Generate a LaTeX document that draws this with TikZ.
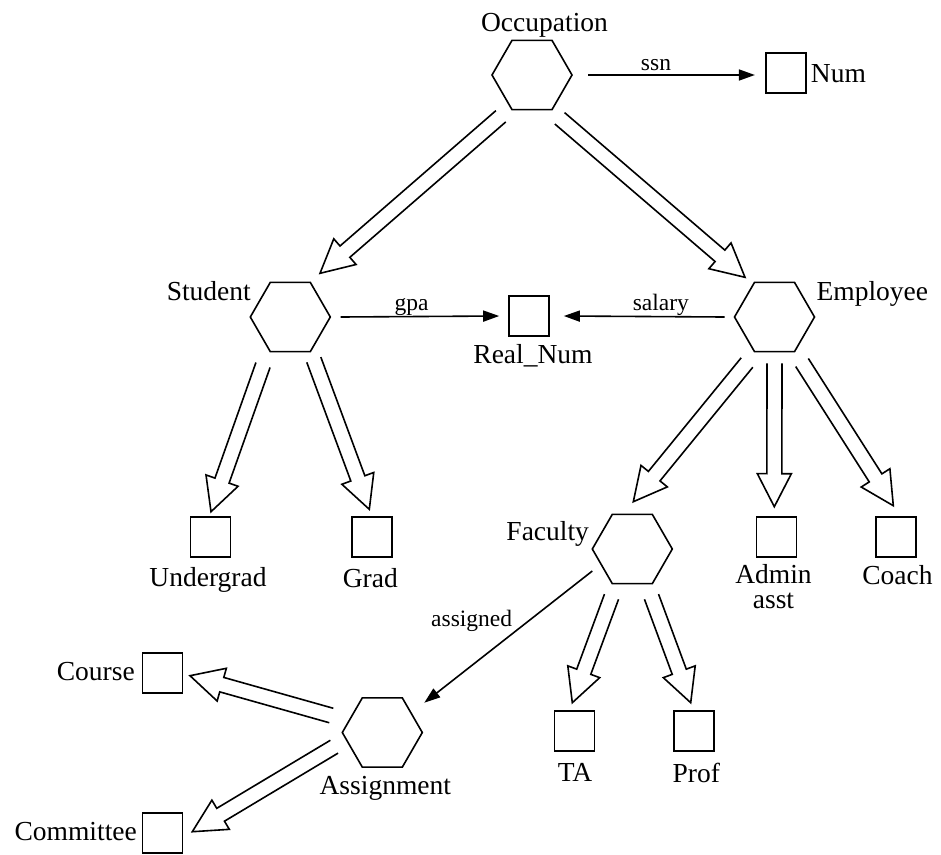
\documentclass[tikz,border=0pt]{standalone}
\usepackage{fontspec}
\setmainfont{Liberation Serif}
\usetikzlibrary{shapes.geometric,arrows.meta,calc}

% open outline arrow (shaft + head) from #1 to the tip #2
\newcommand{\hollowarrow}[2]{%
  \path (#1) coordinate (ha-s) (#2) coordinate (ha-t);
  \path ($(ha-t)!33pt!(ha-s)$) coordinate (ha-b);
  \draw[hollowline]
    ($(ha-s)!7.5pt!90:(ha-t)$) -- ($(ha-b)!7.5pt!90:(ha-t)$)
    -- ($(ha-b)!17pt!90:(ha-t)$) -- (ha-t)
    -- ($(ha-b)!17pt!-90:(ha-t)$) -- ($(ha-b)!7.5pt!-90:(ha-t)$)
    -- ($(ha-s)!7.5pt!-90:(ha-t)$);
}

\begin{document}
\begin{tikzpicture}[x=1pt,y=-1pt,
  hexa/.style={draw, line width=1.6pt, regular polygon, regular polygon sides=6,
    minimum size=80pt, inner sep=0pt},
  sq/.style={draw, line width=1.6pt, minimum width=40pt, minimum height=40pt, inner sep=0pt},
  big/.style={inner sep=0pt, anchor=base, font=\fontsize{27.5}{24.5}\selectfont},
  lbl/.style={inner sep=0pt, anchor=base, font=\fontsize{23.5}{26}\selectfont},
  hollowline/.style={line width=1.6pt, line join=miter},
  thin/.style={line width=1.6pt, -{Triangle[length=16pt,width=11pt]}}]

\useasboundingbox (0,0) rectangle (941,854);

% concept hexagons
\node[hexa] (occ) at (532,75) {};
\node[hexa] (stu) at (290.3,317) {};
\node[hexa] (emp) at (774.5,317) {};
\node[hexa] (fac) at (632.3,549) {};
\node[hexa] (asg) at (382.3,732.5) {};

% value boxes
\node[sq] (num) at (785.7,73) {};
\node[sq] (real) at (529,316) {};
\node[sq] (ug) at (210.3,536.7) {};
\node[sq] (grad) at (372,536.7) {};
\node[sq] (admin) at (776.3,537) {};
\node[sq] (coach) at (896,537) {};
\node[sq] (ta) at (574.3,731) {};
\node[sq] (prof) at (694,731) {};
\node[sq] (course) at (162.5,672.7) {};
\node[sq] (comm) at (162.5,833) {};

% names
\node[big] (t-occ) at (544.5,31.7) {Occupation};
\node[big, anchor=base west] (t-num) at (810.7,82) {Num};
\node[big] (t-stu) at (208.8,300.7) {Student};
\node[big] (t-emp) at (872.3,300.7) {Employee};
\node[big] (t-real) at (533,363) {Real\_Num};
\node[big] (t-ug) at (208,586.7) {Undergrad};
\node[big] (t-grad) at (370.3,587) {Grad};
\node[big] (t-fac) at (547.7,540.7) {Faculty};
\node[big, align=center] (t-admin) at (773.5,608.3) {Admin\\asst};
\node[big] (t-coach) at (897.5,584) {Coach};
\node[big] (t-ta) at (575,781.7) {TA};
\node[big] (t-prof) at (696.3,782) {Prof};
\node[big, anchor=base east] (t-course) at (135,680.7) {Course};
\node[big, anchor=base east] (t-comm) at (137,840.7) {Committee};
\node[big] (t-asg) at (385.3,794) {Assignment};

% attribute arrows
\draw[thin] ($(occ)+(56,0)$) -- ($(num.west |- occ)+(-10,0)$);
\node[lbl] (l-ssn) at (656,70) {ssn};
\draw[thin] ($(stu)+(50.3,0)$) -- ($(real.west)+(-9,0)$);
\node[lbl] (l-gpa) at (411.7,310) {gpa};
\draw[thin] ($(emp)+(-50,0)$) -- ($(real.east)+(14,0)$);
\node[lbl] (l-sal) at (660.8,310) {salary};
\draw[thin] ($(fac)+(-40,22)$) -- ($(asg)+(42,-29.8)$);
\node[lbl] (l-asg) at (471.7,626.7) {assigned};

% is-a arrows
\hollowarrow{$(occ)+(-31.2,41.3)$}{$(stu)+(29.7,-43.7)$}
\hollowarrow{$(occ)+(27.7,43.3)$}{$(emp)+(-29.5,-39.7)$}
\hollowarrow{$(stu)+(-27.3,48)$}{$(ug)+(0.7,-25)$}
\hollowarrow{$(stu)+(23.5,42.7)$}{$(grad)+(-2.7,-27.4)$}
\hollowarrow{$(emp)+(-27.5,45.5)$}{$(fac)+(1,-47.3)$}
\hollowarrow{$(emp)+(0,46.3)$}{$(admin)+(-2,-30.3)$}
\hollowarrow{$(emp)+(27.5,45.5)$}{$(coach)+(-2.7,-31.3)$}
\hollowarrow{$(fac)+(-20.8,47.7)$}{$(ta)+(-2,-28.3)$}
\hollowarrow{$(fac)+(19.2,47.7)$}{$(prof)+(-3.3,-28.3)$}
\hollowarrow{$(asg)+(-51,-17)$}{$(course)+(27.5,3)$}
\hollowarrow{$(asg)+(-48.1,14.2)$}{$(comm)+(29.8,-1.3)$}

\end{tikzpicture}
\end{document}
